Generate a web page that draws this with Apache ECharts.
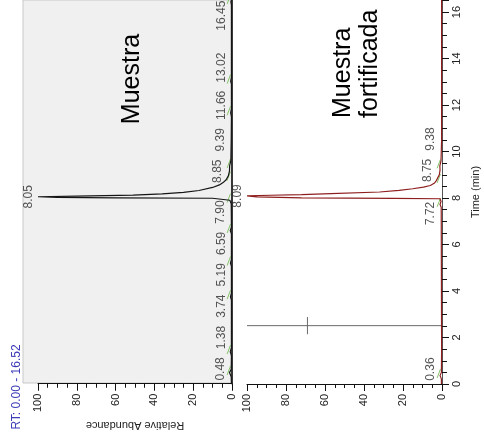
<!DOCTYPE html>
<html>
<head>
<meta charset="utf-8">
<script src="https://cdn.jsdelivr.net/npm/echarts@6/dist/echarts.min.js"></script>
<style>
html,body{margin:0;padding:0;background:#fff;}
#c{width:484px;height:436px;}
</style>
</head>
<body>
<div id="c"></div>
<script>
// ---- data (time in min, relative abundance in %) ----
const sampleTimes = [0, 0.3, 0.48, 0.62, 1.2, 1.38, 1.55, 3.6, 3.74, 3.9, 5.05, 5.19, 5.35, 6.45, 6.59, 6.75, 7.75, 7.90, 7.96, 7.985, 8.0, 8.02, 8.05, 8.08, 8.12, 8.17, 8.24, 8.32, 8.45, 8.56, 8.66, 8.78, 8.85, 8.95, 9.15, 9.39, 9.6, 10.5, 11.5, 11.66, 11.85, 12.9, 13.02, 13.2, 16.3, 16.45, 16.52];
const sampleAbund = [0.3, 0.4, 1.3, 0.4, 0.3, 0.9, 0.3, 0.3, 0.8, 0.3, 0.3, 0.8, 0.3, 0.3, 0.9, 0.3, 0.4, 1.1, 0.8, 10, 60, 90, 100, 80, 51, 36, 25, 17, 10, 6.5, 4.6, 3.0, 2.5, 1.9, 1.3, 1.2, 0.6, 0.4, 0.3, 0.7, 0.3, 0.3, 0.7, 0.3, 0.3, 0.6, 0.3];
const spikedTimes = [0, 0.22, 0.36, 0.5, 1.5, 7.6, 7.72, 7.85, 7.97, 7.99, 8.01, 8.05, 8.09, 8.12, 8.15, 8.19, 8.26, 8.33, 8.40, 8.47, 8.54, 8.65, 8.75, 8.83, 9.0, 9.2, 9.38, 9.6, 10.5, 16.52];
const spikedAbund = [0.3, 0.3, 1.0, 0.3, 0.2, 0.4, 1.0, 0.5, 1.0, 25, 72, 95, 100, 88, 72, 57, 32, 22, 15, 9.5, 6, 3.8, 2.9, 2.0, 1.4, 1.0, 1.1, 0.5, 0.2, 0.2];
const sampleLabelTimes = [0.48, 1.38, 3.74, 5.19, 6.59, 7.90, 8.05, 8.85, 9.39, 11.66, 13.02, 16.45];
const spikedLabelTimes = [0.36, 7.72, 8.09, 8.75, 9.38];
const sampleMainPeak = 8.05;
const spikedMainPeak = 8.09;
const cursorTime = 2.51;
const cursorAbund = 69;
const timeRange = [0, 16.52];
const abundRange = [0, 100];
const panelTitles = ['Muestra', 'Muestra\nfortificada'];
const rangeText = 'RT: 0.00 - 16.52';

// ---- helpers ----
const FONT = "'Liberation Sans', Arial, sans-serif";
const CHAR_MIN = 0.27;   // approx. length of one label character, in minutes of the time axis
const LABEL_PAD = 0.27;  // spacing between neighbouring labels (min)
function pairs(ts, vs) { return ts.map((t, i) => [vs[i], t]); }
const txt = t => t.toFixed(2);
const half = t => txt(t).length * CHAR_MIN / 2;
const gap = (a, b) => half(a) + half(b) + LABEL_PAD;

// Peak-label layout: labels sit on their apex, but small-peak labels are spread
// so they neither overlap each other nor cross the main peak.
function labelPositions(labels, main) {
  const pos = {};
  const before = labels.filter(t => t < main).sort((a, b) => a - b);
  const after = labels.filter(t => t > main).sort((a, b) => a - b);
  const lo0 = timeRange[0], hi0 = timeRange[1];
  // below the main peak
  const pb = before.slice();
  for (let i = pb.length - 1; i >= 0; i--) {
    const lim = i === pb.length - 1 ? main - 0.75 : pb[i + 1] - gap(before[i], before[i + 1]);
    pb[i] = Math.min(before[i], lim);
  }
  for (let i = 0; i < pb.length; i++) {
    const lim = i === 0 ? lo0 + half(before[i]) + 0.1 : pb[i - 1] + gap(before[i - 1], before[i]);
    pb[i] = Math.max(pb[i], lim);
  }
  before.forEach((t, i) => pos[t] = pb[i]);
  // above the main peak (clear of its tail)
  const pa = after.slice();
  for (let i = 0; i < pa.length; i++) {
    const lim = i === 0 ? main + 1.1 : pa[i - 1] + gap(after[i - 1], after[i]);
    pa[i] = Math.max(after[i], lim);
  }
  for (let i = pa.length - 1; i >= 0; i--) {
    const lim = i === pa.length - 1 ? hi0 - half(after[i]) : pa[i + 1] - gap(after[i], after[i + 1]);
    pa[i] = Math.min(pa[i], lim);
  }
  after.forEach((t, i) => pos[t] = pa[i]);
  pos[main] = main;
  return pos;
}
function anchors(labels, ts, vs, main) {
  const pos = labelPositions(labels, main);
  return labels.map(t => {
    const i = ts.indexOf(t);
    return { name: txt(t), value: [i >= 0 ? vs[i] : 0.5, pos[t]] };
  });
}
function greenMarks(labels, main) {
  const out = [];
  labels.filter(t => t !== main).forEach(t => {
    out.push([2.5, t - 0.1], [0.8, t + 0.28], null);
  });
  return out;
}

const abundAxis = (grid, withName) => ({
  type: 'value', gridIndex: grid, inverse: true,
  min: abundRange[0], max: abundRange[1], interval: 20,
  axisLine: { show: true, onZero: false, lineStyle: { color: '#111', width: 1 } },
  axisTick: { show: true, length: 7, lineStyle: { color: '#111' } },
  minorTick: { show: true, splitNumber: 4, length: 4, lineStyle: { color: '#111' } },
  splitLine: { show: false },
  axisLabel: { rotate: 90, fontSize: 11, color: '#222', margin: 10, fontFamily: FONT },
  name: withName ? 'Relative Abundance' : '',
  nameLocation: 'middle', nameRotate: 180, nameGap: 33,
  nameTextStyle: { fontSize: 11, color: '#222', fontFamily: FONT }
});

const labelCfg = {
  show: true, position: 'left', distance: 3, rotate: 90,
  align: 'center', verticalAlign: 'bottom',
  fontSize: 12, color: '#2a2a2a', fontFamily: FONT,
  formatter: '{b}'
};

const option = {
  animation: false,
  backgroundColor: '#fff',
  grid: [
    { left: 23, right: 252, top: -11, bottom: 53, show: true, backgroundColor: '#f0f0f0', borderColor: '#c8c8c8', borderWidth: 1 },
    { left: 38, right: 252, top: -11, bottom: 52 },
    { left: 247, right: 42, top: -11, bottom: 52 }
  ],
  xAxis: [
    { type: 'value', gridIndex: 0, show: false, min: 0, max: 1 },
    abundAxis(1, true),
    abundAxis(2, false)
  ],
  yAxis: [
    { type: 'value', gridIndex: 0, show: false, min: 0, max: 1 },
    { type: 'value', gridIndex: 1, position: 'right', min: timeRange[0], max: timeRange[1], interval: 2,
      axisLine: { show: true, onZero: false, lineStyle: { color: '#000', width: 1.5 } },
      axisTick: { show: false }, axisLabel: { show: false }, splitLine: { show: false } },
    { type: 'value', gridIndex: 2, position: 'right', min: timeRange[0], max: timeRange[1], interval: 2,
      axisLine: { show: true, onZero: false, lineStyle: { color: '#555', width: 1 } },
      axisTick: { show: true, length: 7, lineStyle: { color: '#111' } },
      minorTick: { show: true, splitNumber: 4, length: 5, lineStyle: { color: '#111' } },
      splitLine: { show: false },
      axisLabel: { rotate: 90, fontSize: 11, color: '#222', margin: 9, fontFamily: FONT, showMaxLabel: false },
      name: 'Time (min)', nameLocation: 'middle', nameRotate: 90, nameGap: 28,
      nameTextStyle: { fontSize: 11, color: '#222', fontFamily: FONT } }
  ],
  series: [
    { type: 'line', name: 'peakMarks1', xAxisIndex: 1, yAxisIndex: 1, data: greenMarks(sampleLabelTimes, sampleMainPeak),
      showSymbol: false, connectNulls: false, lineStyle: { color: '#86c46a', width: 1 }, z: 2, silent: true },
    { type: 'line', name: 'peakMarks2', xAxisIndex: 2, yAxisIndex: 2, data: greenMarks(spikedLabelTimes, spikedMainPeak),
      showSymbol: false, connectNulls: false, lineStyle: { color: '#86c46a', width: 1 }, z: 2, silent: true },
    { type: 'line', name: 'Muestra', xAxisIndex: 1, yAxisIndex: 1, data: pairs(sampleTimes, sampleAbund),
      showSymbol: false, lineStyle: { color: '#151515', width: 1.2 }, z: 3 },
    { type: 'line', name: 'Muestra fortificada', xAxisIndex: 2, yAxisIndex: 2, data: pairs(spikedTimes, spikedAbund),
      showSymbol: false, lineStyle: { color: '#8f1f1f', width: 1.2 }, z: 3 },
    { type: 'line', name: 'cursor', xAxisIndex: 2, yAxisIndex: 2,
      data: [[abundRange[1], cursorTime], [abundRange[0], cursorTime]],
      showSymbol: false, lineStyle: { color: '#6a6a6a', width: 1 }, z: 2 },
    { type: 'line', name: 'cursorTick', xAxisIndex: 2, yAxisIndex: 2,
      data: [[cursorAbund, cursorTime - 0.37], [cursorAbund, cursorTime + 0.37]],
      showSymbol: false, lineStyle: { color: '#6a6a6a', width: 1 }, z: 2 },
    { type: 'scatter', name: 'labels1', xAxisIndex: 1, yAxisIndex: 1, symbolSize: 0,
      data: anchors(sampleLabelTimes, sampleTimes, sampleAbund, sampleMainPeak), label: labelCfg, z: 4 },
    { type: 'scatter', name: 'labels2', xAxisIndex: 2, yAxisIndex: 2, symbolSize: 0,
      data: anchors(spikedLabelTimes, spikedTimes, spikedAbund, spikedMainPeak), label: labelCfg, z: 4 }
  ],
  graphic: [
    { type: 'text', x: 132, y: 79, rotation: Math.PI / 2,
      style: { text: panelTitles[0], font: '25px ' + FONT, fill: '#000', align: 'center', verticalAlign: 'middle' } },
    { type: 'text', x: 357, y: 118, rotation: Math.PI / 2,
      style: { text: panelTitles[1], font: '25px ' + FONT, fill: '#000', align: 'left', verticalAlign: 'middle', lineHeight: 27 } },
    { type: 'text', x: 17, y: 387, rotation: Math.PI / 2,
      style: { text: rangeText, font: '12px ' + FONT, fill: '#3b3bb8', align: 'center', verticalAlign: 'middle' } }
  ]
};

const chart = echarts.init(document.getElementById('c'), null, { renderer: 'canvas' });
chart.setOption(option);
</script>
</body>
</html>
